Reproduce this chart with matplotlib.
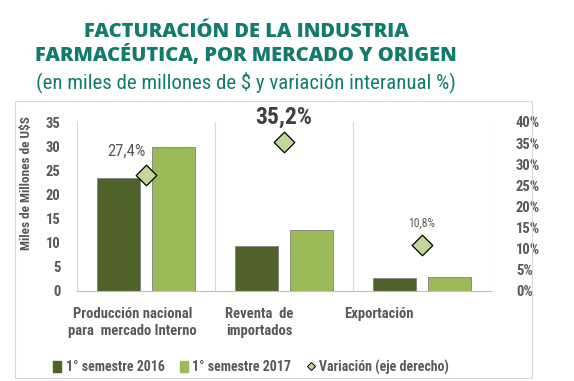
import matplotlib
matplotlib.use("Agg")
import matplotlib.pyplot as plt
from matplotlib.patches import Patch
from matplotlib.lines import Line2D
import numpy as np

# data
categories = ["Producción nacional\npara  mercado Interno", "Reventa  de\nimportados", "Exportación"]
sem_2016 = [23.5, 9.4, 2.6]
sem_2017 = [29.9, 12.6, 2.8]
variacion = [27.4, 35.2, 10.8]
var_labels = ["27,4%", "35,2%", "10,8%"]
left_ticks = [0, 5, 10, 15, 20, 25, 30, 35]
right_ticks = [0, 5, 10, 15, 20, 25, 30, 35, 40]

DARK = "#4f6228"
LIGHT = "#9bbb59"
DIAMOND = "#c3d69b"
TEAL = "#137b6c"
GRAY = "#595959"

COND = ["Roboto Condensed", "Liberation Sans Narrow", "Roboto", "DejaVu Sans"]
TITLE = ["Open Sans", "Lato", "DejaVu Sans"]

fig = plt.figure(figsize=(5.74, 3.81), dpi=100)
W, H = 574, 381
cx = 246 / W  # titles are centred a bit left of the figure middle

# outer frame
frame = plt.Rectangle((15 / W, 1 - 378 / H), (532 - 15) / W, (378 - 101) / H,
                      transform=fig.transFigure, fill=False, edgecolor="#d9d9d9", lw=0.8)
fig.patches.append(frame)

fig.text(cx, 1 - 32 / H, "FACTURACIÓN DE LA INDUSTRIA", ha="center", va="center",
         fontsize=14.5, fontweight="heavy", color=TEAL, family=TITLE)
fig.text(cx, 1 - 56 / H, "FARMACÉUTICA, POR MERCADO Y ORIGEN", ha="center", va="center",
         fontsize=14.5, fontweight="heavy", color=TEAL, family=TITLE)
fig.text(cx, 1 - 82 / H, "(en miles de millones de $ y variación interanual %)", ha="center",
         va="center", fontsize=15, color=TEAL, family=COND)

ax = fig.add_axes([77 / W, 1 - 291 / H, (491 - 77) / W, (291 - 122) / H])
x = np.arange(len(categories))
w = 0.31
ax.bar(x - 0.2, sem_2016, w, color=DARK, edgecolor="#7f7f7f", lw=0.6, zorder=2)
ax.bar(x + 0.2, sem_2017, w, color=LIGHT, edgecolor="#7f7f7f", lw=0.6, zorder=2)
ax.set_xlim(-0.5, 2.5)
ax.set_ylim(0, 35)
ax.set_yticks(left_ticks)
for s in ["top", "right", "left"]:
    ax.spines[s].set_visible(False)
ax.spines["bottom"].set_color("#bfbfbf")
for b in np.arange(-0.5, 3, 1):
    ax.axvline(b, color="#d9d9d9", lw=0.8, zorder=0)
ax.tick_params(axis="y", length=0, pad=12, labelsize=10.5, labelcolor=GRAY)
ax.tick_params(axis="x", length=0)
ax.set_xticks([])
for lab in ax.get_yticklabels():
    lab.set_family(COND)
    lab.set_fontweight("bold")
ax.set_ylabel("Miles de Millones de U$S", fontsize=9.5, fontweight="bold", color=GRAY,
              family=COND)
ax.yaxis.set_label_coords(-0.106, 0.64)

# category labels, shifted as in the source
label_offsets = [-0.1, -0.18, -0.31]
for xi, lab, off in zip(x, categories, label_offsets):
    ax.text(xi + off, -3.3, lab, ha="center", va="top", fontsize=10.5, fontweight="bold",
            color=GRAY, family=COND, linespacing=1.3)

ax2 = ax.twinx()
ax2.set_ylim(0, 40)
ax2.set_yticks(right_ticks)
ax2.set_yticklabels([f"{t}%" for t in right_ticks])
for s in ["top", "right", "left", "bottom"]:
    ax2.spines[s].set_visible(False)
ax2.tick_params(axis="y", length=0, pad=18, labelsize=10.5, labelcolor=GRAY)
for lab in ax2.get_yticklabels():
    lab.set_family(COND)
    lab.set_fontweight("bold")
ax2.scatter(x, variacion, marker="D", s=110, color=DIAMOND, edgecolor="black", lw=0.9, zorder=3)

ax2.annotate(var_labels[0], (x[0], variacion[0]), xytext=(-14, 17), textcoords="offset points",
             ha="center", va="center", fontsize=12, color=GRAY, family=COND)
ax2.annotate(var_labels[1], (x[1], variacion[1]), xytext=(0, 18), textcoords="offset points",
             ha="center", va="center", fontsize=17, fontweight="bold", color="#404040", family=COND)
ax2.annotate(var_labels[2], (x[2], variacion[2]), xytext=(0, 16), textcoords="offset points",
             ha="center", va="center", fontsize=8.5, color=GRAY, family=COND)

handles = [Patch(facecolor=DARK, edgecolor=DARK),
           Patch(facecolor=LIGHT, edgecolor=LIGHT),
           Line2D([], [], marker="D", ls="", markersize=4, markerfacecolor=DIAMOND,
                  markeredgecolor="black", markeredgewidth=0.7)]
leg = fig.legend(handles, ["1° semestre 2016", "1° semestre 2017", "Variación (eje derecho)"],
                 loc="center", bbox_to_anchor=(251 / W, 1 - 367 / H), ncol=3, frameon=False,
                 handlelength=0.6, handleheight=0.8, handletextpad=0.3, columnspacing=1.1,
                 prop={"family": COND, "weight": "bold", "size": 10})
for t in leg.get_texts():
    t.set_color(GRAY)

fig.savefig("out.png", dpi=100)
